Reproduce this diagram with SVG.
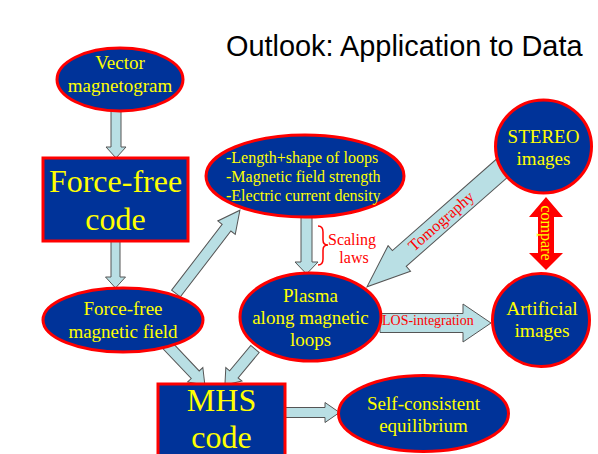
<svg xmlns="http://www.w3.org/2000/svg" width="598" height="454" viewBox="0 0 598 454">
<style>
.node{fill:#003399;stroke:#ff0000;stroke-width:3}
.t{font-family:"Liberation Serif","Times New Roman",serif;fill:#ffff00;text-anchor:middle}
.arr{fill:#b9dfe4;stroke:#555555;stroke-width:1}
.lbl{font-family:"Liberation Serif","Times New Roman",serif;fill:#ff0000}
</style>
<rect width="598" height="454" fill="#ffffff"/>
<text x="226" y="56" font-family="Liberation Sans, Arial, sans-serif" font-size="28.9" fill="#000">Outlook: Application to Data</text>
<g id="connectors">
<polygon class="arr" transform="translate(116,111) rotate(90)" points="0,-5 36,-5 36,-10 47,0 36,10 36,5 0,5"/>
<polygon class="arr" transform="translate(115.5,241) rotate(90)" points="0,-4.5 36,-4.5 36,-10 47,0 36,10 36,4.5 0,4.5"/>
<polygon class="arr" transform="translate(176,293.5) rotate(-52.5)" points="0,-5.5 83,-5.5 83,-11 105,0 83,11 83,5.5 0,5.5"/>
<polygon class="arr" transform="translate(306.5,214) rotate(90)" points="0,-5.5 48,-5.5 48,-11.5 60,0 48,11.5 48,5.5 0,5.5"/>
<polygon class="arr" transform="translate(506,164.7) rotate(138.7)" points="0,-10.5 142,-10.5 142,-17 185,0 142,17 142,10.5 0,10.5"/>
<polygon class="arr" points="380,313.5 463,313.5 463,304 491,323 463,342 463,332.5 380,332.5"/>
<polygon class="arr" transform="translate(167,345) rotate(46.5)" points="0,-5.5 41,-5.5 41,-10.5 55,0 41,10.5 41,5.5 0,5.5"/>
<polygon class="arr" transform="translate(255,349) rotate(129.8)" points="0,-5.5 33,-5.5 33,-10.5 47,0 33,10.5 33,5.5 0,5.5"/>
<polygon class="arr" points="284,407.5 325,407.5 325,402.5 339.5,412.5 325,422.5 325,417.5 284,417.5"/>
<polygon fill="#ff0000" points="546,197 563,217 554,217 554,253 563,253 546,270 529,253 538,253 538,217 529,217"/>
<text class="lbl" font-size="16" style="fill:#ffff00" text-anchor="middle" dominant-baseline="central" transform="translate(546,233) rotate(90)">compare</text>
<text class="lbl" font-size="16" text-anchor="middle" dominant-baseline="central" transform="translate(441,221) rotate(-41.3)">Tomography</text>
<text class="lbl" font-size="14" x="382" y="325">LOS-integration</text>
<path d="M318,226 Q323,226 323,232 L323,240 Q323,245 328,245 Q323,245 323,250 L323,259 Q323,265 318,265" fill="none" stroke="#ff0000" stroke-width="1.5"/>
<text class="lbl" font-size="16" text-anchor="middle" x="352" y="245">Scaling</text>
<text class="lbl" font-size="16" text-anchor="middle" x="354" y="263">laws</text>
</g>
<g id="vector">
<ellipse class="node" cx="120" cy="79.5" rx="63" ry="31.5"/>
<text class="t" font-size="19" x="120" y="69">Vector</text>
<text class="t" font-size="19" x="120" y="92">magnetogram</text>
</g>
<g id="ffcode">
<rect class="node" x="43" y="158" width="145" height="83"/>
<text class="t" font-size="32" x="115.5" y="192">Force-free</text>
<text class="t" font-size="32" x="115.5" y="230">code</text>
</g>
<g id="fffield">
<ellipse class="node" cx="123" cy="320" rx="80" ry="32"/>
<text class="t" font-size="19" x="123" y="315">Force-free</text>
<text class="t" font-size="19" x="123" y="338">magnetic field</text>
</g>
<g id="loops">
<ellipse class="node" cx="305" cy="176" rx="99" ry="41"/>
<text class="t" font-size="16" style="text-anchor:start" x="226" y="163">-Length+shape of loops</text>
<text class="t" font-size="16" style="text-anchor:start" x="226" y="182">-Magnetic field strength</text>
<text class="t" font-size="16" style="text-anchor:start" x="226" y="201">-Electric current density</text>
</g>
<g id="stereo">
<ellipse class="node" cx="543.5" cy="146.5" rx="48" ry="46.5"/>
<text class="t" font-size="19" x="543.5" y="143">STEREO</text>
<text class="t" font-size="19" x="543.5" y="165">images</text>
</g>
<g id="plasma">
<ellipse class="node" cx="310.5" cy="317" rx="70.5" ry="44"/>
<text class="t" font-size="19" x="310.5" y="302">Plasma</text>
<text class="t" font-size="19" x="310.5" y="324">along magnetic</text>
<text class="t" font-size="19" x="310.5" y="346">loops</text>
</g>
<g id="artificial">
<ellipse class="node" cx="541" cy="320" rx="48.5" ry="46.5"/>
<text class="t" font-size="19.5" x="542" y="315">Artificial</text>
<text class="t" font-size="19.5" x="542" y="337">images</text>
</g>
<g id="mhs">
<rect class="node" x="158" y="384" width="127" height="82"/>
<text class="t" font-size="32" x="221.5" y="411">MHS</text>
<text class="t" font-size="32" x="221.5" y="448">code</text>
</g>
<g id="equilibrium">
<ellipse class="node" cx="423.5" cy="413.5" rx="85" ry="38"/>
<text class="t" font-size="19" x="423.5" y="410">Self-consistent</text>
<text class="t" font-size="19" x="423.5" y="432">equilibrium</text>
</g>
</svg>
